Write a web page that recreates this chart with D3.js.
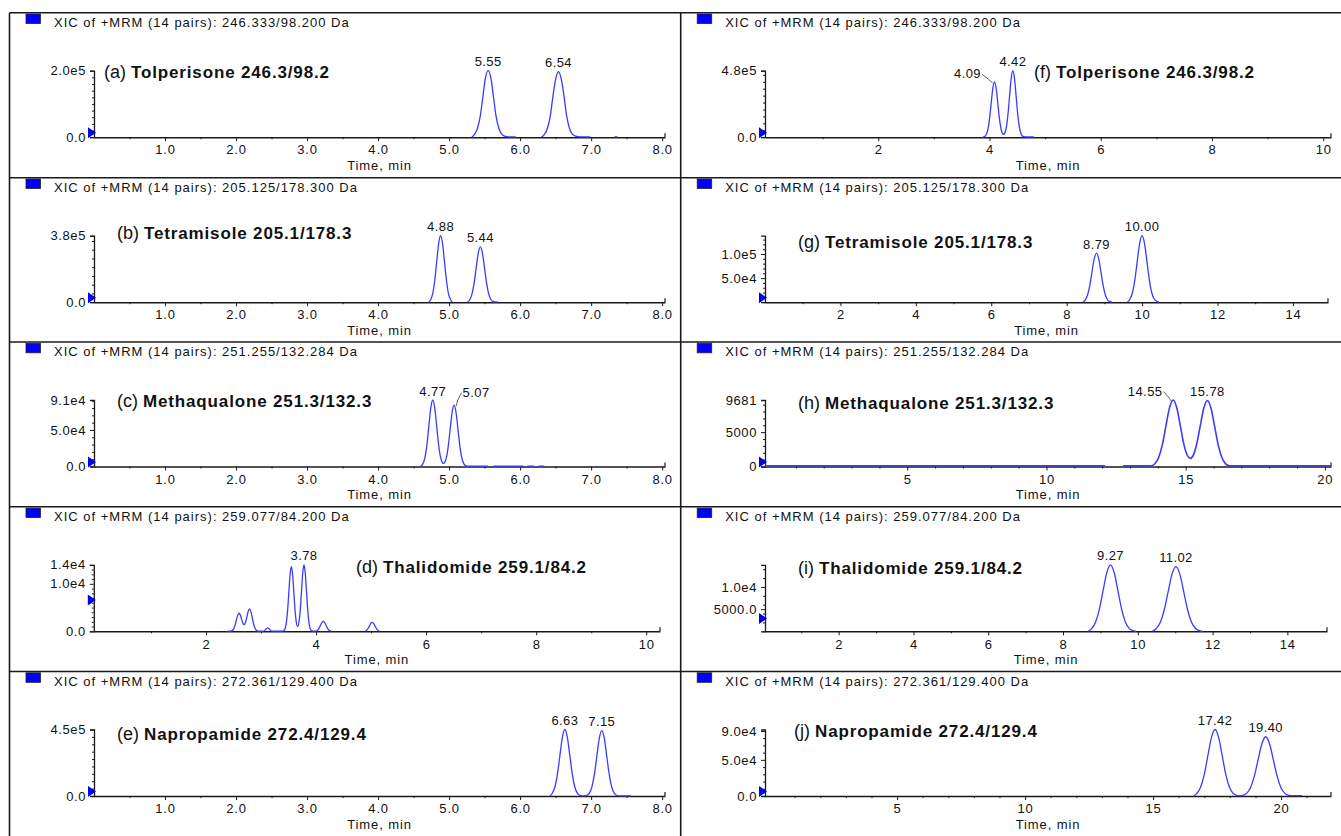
<!DOCTYPE html>
<html><head><meta charset="utf-8">
<script src="https://cdn.jsdelivr.net/npm/d3@7"></script>
<style>
body{margin:0;background:#fff}
svg{display:block}
text{font-family:"Liberation Sans",Arial,sans-serif;fill:#111}
</style>
</head><body>
<svg id="chart" width="1341" height="836"></svg>
<script>
// ---------------- DATA ----------------
const titles = [
  "XIC of +MRM (14 pairs): 246.333/98.200 Da",
  "XIC of +MRM (14 pairs): 205.125/178.300 Da",
  "XIC of +MRM (14 pairs): 251.255/132.284 Da",
  "XIC of +MRM (14 pairs): 259.077/84.200 Da",
  "XIC of +MRM (14 pairs): 272.361/129.400 Da",
  "XIC of +MRM (14 pairs): 246.333/98.200 Da",
  "XIC of +MRM (14 pairs): 205.125/178.300 Da",
  "XIC of +MRM (14 pairs): 251.255/132.284 Da",
  "XIC of +MRM (14 pairs): 259.077/84.200 Da",
  "XIC of +MRM (14 pairs): 272.361/129.400 Da"
];
const compoundTags = ["(a)","(b)","(c)","(d)","(e)","(f)","(g)","(h)","(i)","(j)"];
const compoundNames = [
  "Tolperisone 246.3/98.2","Tetramisole 205.1/178.3","Methaqualone 251.3/132.3",
  "Thalidomide 259.1/84.2","Napropamide 272.4/129.4",
  "Tolperisone 246.3/98.2","Tetramisole 205.1/178.3","Methaqualone 251.3/132.3",
  "Thalidomide 259.1/84.2","Napropamide 272.4/129.4"
];
// intensity max (thousands of counts)
const yMax = [200, 380, 91, 14, 450, 480, 138, 9.681, 15, 92];
const yTickValues = [[0,200],[0,380],[0,50,91],[0,10,14],[0,450],[0,480],[50,100],[0,5,9.681],[5,10],[0,50,90]];
const yTickLabels = [["0.0","2.0e5"],["0.0","3.8e5"],["0.0","5.0e4","9.1e4"],["0.0","1.0e4","1.4e4"],["0.0","4.5e5"],
  ["0.0","4.8e5"],["5.0e4","1.0e5"],["0","5000","9681"],["5000.0","1.0e4"],["0.0","5.0e4","9.0e4"]];
const xTickValues = [
  [1,2,3,4,5,6,7,8],[1,2,3,4,5,6,7,8],[1,2,3,4,5,6,7,8],[2,4,6,8,10],[1,2,3,4,5,6,7,8],
  [2,4,6,8,10],[2,4,6,8,10,12,14],[5,10,15,20],[2,4,6,8,10,12,14],[5,10,15,20]
];
const xTickLabels = [
  ["1.0","2.0","3.0","4.0","5.0","6.0","7.0","8.0"],["1.0","2.0","3.0","4.0","5.0","6.0","7.0","8.0"],
  ["1.0","2.0","3.0","4.0","5.0","6.0","7.0","8.0"],["2","4","6","8","10"],
  ["1.0","2.0","3.0","4.0","5.0","6.0","7.0","8.0"],["2","4","6","8","10"],
  ["2","4","6","8","10","12","14"],["5","10","15","20"],["2","4","6","8","10","12","14"],["5","10","15","20"]
];
const xMinorTicks = [
  [0.5,1.5,2.5,3.5,4.5,5.5,6.5,7.5],[0.5,1.5,2.5,3.5,4.5,5.5,6.5,7.5],[0.5,1.5,2.5,3.5,4.5,5.5,6.5,7.5],
  [1,3,5,7,9],[0.5,1.5,2.5,3.5,4.5,5.5,6.5,7.5],[1,3,5,7,9],[1,3,5,7,9,11,13],
  [1,2,3,4,6,7,8,9,11,12,13,14,16,17,18,19],[1,3,5,7,9,11,13],[1,2,3,4,6,7,8,9,11,12,13,14,16,17,18,19,21]
];
const peakTimes = [[5.55,6.54],[4.88,5.44],[4.77,5.07],[3.78],[6.63,7.15],[4.09,4.42],[8.79,10.00],[14.55,15.78],[9.27,11.02],[17.42,19.40]];
const peakLabels = [["5.55","6.54"],["4.88","5.44"],["4.77","5.07"],["3.78"],["6.63","7.15"],["4.09","4.42"],["8.79","10.00"],["14.55","15.78"],["9.27","11.02"],["17.42","19.40"]];
const thresholdMarks = [0,0,0,6.6,0,0,0,0,2.9,0];

// traces: [time (min), intensity (thousands of counts)]; null = gap
const traceA = [[5.32,0],[5.36,9],[5.40,27],[5.44,65],[5.475,121],[5.51,176],[5.55,200],[5.59,176],[5.625,121],[5.66,65],[5.70,27],[5.74,9],[5.78,3],[5.84,1],[5.92,1],[5.94,0],[5.96,null],
  [6.30,0],[6.345,9],[6.385,27],[6.425,64],[6.46,120],[6.50,174],[6.54,197],[6.58,174],[6.62,120],[6.655,64],[6.695,27],[6.735,9],[6.78,3],[6.85,1],[6.97,1],[6.99,0],[7.1,null],
  [7.33,0],[7.35,1.5],[7.37,0]];
const traceB = [[4.715,0],[4.743,17],[4.77,51],[4.798,124],[4.825,231],[4.853,335],[4.88,380],[4.908,335],[4.935,231],[4.963,124],[4.99,51],[5.018,17],[5.045,0],[5.1,null],
  [5.26,0],[5.29,14],[5.32,43],[5.35,103],[5.38,192],[5.41,279],[5.44,316],[5.47,279],[5.50,192],[5.53,103],[5.56,43],[5.59,14],[5.62,4],[5.68,1],[5.69,0]];
const traceC = [[4.60,0],[4.63,3.6],[4.66,12.3],[4.69,31.6],[4.715,55.2],[4.743,80.7],[4.77,91],[4.798,79.9],[4.825,55.2],[4.853,29.1],[4.88,12.5],[4.90,6.3],[4.92,4.2],[4.94,5.9],[4.96,11.5],[4.987,26.9],[5.015,51],[5.043,74.5],[5.07,84],[5.098,73.8],[5.125,51],[5.153,26.9],[5.18,11.3],[5.21,3.3],[5.24,0.7],[5.27,0.4],[5.55,0.4],[5.57,null],[5.62,0.4],[6.05,0.4],[6.07,null],[6.1,0.4],[6.2,0.4],[6.22,null],[6.26,0.4],[6.34,0.4]];
const traceD = [[2.40,0.05],[2.45,0.05],[2.475,0.17],[2.50,0.51],[2.525,1.24],[2.55,2.31],[2.575,3.35],[2.60,3.8],[2.625,3.36],[2.65,2.4],[2.675,1.57],[2.695,1.41],[2.715,1.8],[2.74,2.91],[2.765,4.15],[2.79,4.7],[2.815,4.15],[2.84,2.85],[2.865,1.53],[2.89,0.63],[2.915,0.21],[2.95,0.05],[3.05,0.05],[3.08,0.36],[3.10,0.6],[3.12,0.72],[3.14,0.6],[3.16,0.36],[3.19,0.05],[3.40,0.05],[3.415,0.15],[3.4375,0.6],[3.46,1.84],[3.4825,4.42],[3.505,8.26],[3.5275,12.0],[3.55,13.6],[3.5725,12.0],[3.595,8.26],[3.6175,4.42],[3.64,1.95],[3.665,1.05],[3.69,2.05],[3.7125,4.55],[3.735,8.5],[3.7575,12.35],[3.78,14.0],[3.8025,12.35],[3.825,8.5],[3.8475,4.55],[3.87,1.89],[3.8925,0.62],[3.915,0.15],[3.95,0.05],[4.00,0.05],[4.03,0.28],[4.055,0.68],[4.08,1.27],[4.105,1.85],[4.13,2.1],[4.155,1.85],[4.18,1.27],[4.205,0.68],[4.23,0.28],[4.26,0.07],[4.28,0.05],[4.3,null],
  [4.90,0.05],[4.92,0.25],[4.945,0.62],[4.97,1.15],[4.995,1.68],[5.02,1.9],[5.045,1.68],[5.07,1.15],[5.095,0.62],[5.12,0.25],[5.15,0.05]];
const traceE = [[6.42,0],[6.455,20],[6.49,61],[6.525,146],[6.56,273],[6.595,397],[6.63,450],[6.665,397],[6.70,273],[6.735,146],[6.77,61],[6.805,20],[6.84,5],[6.88,1.5],[6.92,2.5],[6.94,5],[6.975,19.5],[7.01,60],[7.045,144],[7.08,269],[7.115,391],[7.15,443],[7.185,391],[7.22,269],[7.255,144],[7.29,60],[7.325,19.5],[7.36,5],[7.40,1.5],[7.55,1.5],[7.56,0]];
const traceF = [[3.88,0],[3.91,4.4],[3.94,17.6],[3.97,54],[4.00,130],[4.03,243],[4.06,353],[4.09,400],[4.12,353],[4.15,243],[4.18,130],[4.21,55],[4.24,23],[4.255,20],[4.27,25.4],[4.30,66],[4.33,156],[4.36,291],[4.39,423],[4.42,480],[4.45,423],[4.48,291],[4.51,156],[4.54,65],[4.57,21],[4.60,5.3],[4.64,2],[4.78,2],[4.80,0]];
const traceG = [[8.43,0],[8.49,4.5],[8.55,13.8],[8.61,33.2],[8.67,61.9],[8.73,90],[8.79,102],[8.85,90],[8.91,61.9],[8.97,33.2],[9.03,13.8],[9.09,4.5],[9.15,1.1],[9.2,0],[9.3,null],
  [9.61,0],[9.675,6.1],[9.74,18.6],[9.805,44.9],[9.87,83.8],[9.935,121.7],[10.00,138],[10.065,121.7],[10.13,83.8],[10.195,44.9],[10.26,18.6],[10.325,6.1],[10.39,1.5],[10.45,0]];
const traceH = [[-0.1,0.12],[12.1,0.12],[12.2,null],[12.75,0.12],[13.77,0.12],[13.9,0.43],[14.03,1.31],[14.16,3.15],[14.29,5.88],[14.42,8.54],[14.55,9.681],[14.68,8.54],[14.81,5.88],[14.94,3.15],[15.07,1.54],[15.165,1.18],[15.26,1.53],[15.39,3.17],[15.52,5.83],[15.65,8.47],[15.78,9.6],[15.91,8.47],[16.04,5.83],[16.17,3.12],[16.30,1.3],[16.43,0.42],[16.56,0.12],[20.2,0.12]];
const traceI = [[8.67,0],[8.77,0.66],[8.87,2.03],[8.97,4.88],[9.07,9.1],[9.17,13.2],[9.27,15.0],[9.37,13.2],[9.47,9.1],[9.57,4.88],[9.67,2.03],[9.77,0.66],[9.87,0.17],[9.95,0],[10.1,null],
  [10.39,0],[10.495,0.64],[10.6,1.97],[10.705,4.75],[10.81,8.86],[10.915,12.9],[11.02,14.6],[11.125,12.9],[11.23,8.86],[11.335,4.75],[11.44,1.97],[11.545,0.64],[11.65,0.16],[11.75,0]];
const traceJ = [[16.58,0],[16.72,4.0],[16.86,12.4],[17.0,29.9],[17.14,55.8],[17.28,81.1],[17.42,92],[17.56,81.1],[17.70,55.8],[17.84,29.9],[17.98,12.4],[18.12,4.0],[18.26,1.0],[18.4,0.5],[18.5,0.9],[18.65,3.6],[18.8,11.1],[18.95,26.7],[19.1,49.8],[19.25,72.3],[19.40,82],[19.55,72.3],[19.70,49.8],[19.85,26.7],[20.0,11.1],[20.15,3.6],[20.3,0.9],[20.5,0.5],[20.8,0.5],[20.82,0]];
const traces = [traceA,traceB,traceC,traceD,traceE,traceF,traceG,traceH,traceI,traceJ];

// ---------------- LAYOUT ----------------
const rowTops = [12.7, 177.7, 342, 506.8, 671.5];
const colLefts = [9.5, 680.7];
const xDomains = [[0,8.04],[0,8.04],[0,8.04],[-0.04,10.25],[0,8.04],[-0.036,10.14],[0,14.93],[-0.11,20.22],[0.03,15.06],[-0.16,21.95]];
const xRanges = [[94,665],[94,665],[94,665],[93.8,660],[94,665],[765,1331],[765,1328],[765,1331],[765,1327],[765,1331]];
const compoundPos = [[104,72],[117,233],[117,401],[356,567],[117,734],[1034,72],[798,242],[798,403],[798,568],[794,731]];
// per-peak label offsets [dx, dy, leader]
const labelAdj = {"2-1":[22,-4,"left"], "5-0":[-27,1,"right"], "7-0":[-28,0,"right"]};

const svg = d3.select("#chart");
const ink = "#1a1a1a", traceColor = "#3b3bff";

// frame lines
rowTops.forEach(t => svg.append("line").attr("x1",9.5).attr("x2",1341).attr("y1",t).attr("y2",t)
  .attr("stroke",ink).attr("stroke-width",1.6));
colLefts.forEach(x => svg.append("line").attr("x1",x).attr("x2",x).attr("y1",rowTops[0]).attr("y2",836)
  .attr("stroke",ink).attr("stroke-width",1.6));

traces.forEach((tr, i) => {
  const col = i < 5 ? 0 : 1, row = i % 5;
  const T = rowTops[row], L = colLefts[col];
  const y0 = T + 124.5, yT = T + 58;
  const x = d3.scaleLinear().domain(xDomains[i]).range(xRanges[i]);
  const y = d3.scaleLinear().domain([0, yMax[i]]).range([y0, yT]);
  const ax = xRanges[i][0];
  const g = svg.append("g");

  // header
  g.append("rect").attr("x", L + 16.5).attr("y", T + 1.3).attr("width", 14.5).attr("height", 9.5)
    .attr("fill", "#0000ff").attr("stroke", "#222").attr("stroke-width", 0.8);
  g.append("text").attr("x", L + 44.5).attr("y", T + 14).attr("font-size", 13)
    .attr("letter-spacing", 1.0).text(titles[i]);

  // x axis
  const xa = g.append("g").attr("transform", `translate(0,${y0})`)
    .call(d3.axisBottom(x).tickValues(xTickValues[i]).tickFormat((d,k) => xTickLabels[i][k])
      .tickSize(4).tickSizeOuter(0).tickPadding(4));
  xa.select(".domain").attr("stroke", ink).attr("stroke-width", 1.5);
  xa.selectAll(".tick line").attr("stroke", ink);
  xa.selectAll("text").attr("font-size", 13).attr("letter-spacing", 0.8).attr("fill", "#111")
    .attr("font-family", '"Liberation Sans",Arial,sans-serif');
  const xm = g.append("g").attr("transform", `translate(0,${y0})`)
    .call(d3.axisBottom(x).tickValues(xMinorTicks[i]).tickFormat("").tickSize(2).tickSizeOuter(0));
  xm.select(".domain").remove();
  xm.selectAll(".tick line").attr("stroke", ink);
  // end cap tick
  g.append("line").attr("x1", xRanges[i][1]).attr("x2", xRanges[i][1]).attr("y1", y0).attr("y2", y0 - 4)
    .attr("stroke", ink).attr("stroke-width", 1.2);
  g.append("text").attr("x", (xRanges[i][0] + xRanges[i][1]) / 2).attr("y", T + 157)
    .attr("text-anchor", "middle").attr("font-size", 13).attr("letter-spacing", 0.9).text("Time, min");

  // y axis
  const ya = g.append("g").attr("transform", `translate(${ax},0)`)
    .call(d3.axisLeft(y).tickValues(yTickValues[i]).tickFormat((d,k) => yTickLabels[i][k])
      .tickSize(4).tickSizeOuter(4).tickPadding(4));
  ya.select(".domain").attr("stroke", ink).attr("stroke-width", 1.3);
  ya.selectAll(".tick line").attr("stroke", ink);
  ya.selectAll("text").attr("font-size", 13).attr("letter-spacing", 0.6).attr("fill", "#111")
    .attr("font-family", '"Liberation Sans",Arial,sans-serif');
  const labelled = new Set(yTickValues[i]);
  const ym = g.append("g").attr("transform", `translate(${ax},0)`)
    .call(d3.axisLeft(y).tickValues(y.ticks(10).filter(v => !labelled.has(v) && v < yMax[i])).tickFormat("").tickSize(2).tickSizeOuter(0));
  ym.select(".domain").remove();
  ym.selectAll(".tick line").attr("stroke", ink);

  // threshold marker
  const my = thresholdMarks[i] > 0 ? y(thresholdMarks[i]) : y0 - 4.5;
  g.append("path").attr("d", `M${ax-6},${my-5.5}L${ax+2},${my}L${ax-6},${my+5.5}Z`).attr("fill", "#0000ee");

  // trace
  const line = d3.line().defined(d => d[1] !== null).x(d => x(d[0])).y(d => y(d[1])).curve(d3.curveMonotoneX);
  g.append("path").datum(tr).attr("d", line).attr("fill", "none").attr("stroke", traceColor)
    .attr("stroke-width", i === 7 ? 1.6 : 1.3);

  // peak labels
  peakTimes[i].forEach((pt, k) => {
    const near = tr.filter(d => d[1] !== null && Math.abs(d[0] - pt) < 0.12);
    const top = d3.max(near, d => d[1]);
    const adj = labelAdj[`${i}-${k}`] || [0, 0, null];
    const px = x(pt), py = y(top);
    const t = g.append("text").attr("x", px + adj[0]).attr("y", py - 4.5 + adj[1]).attr("text-anchor", "middle")
      .attr("font-size", 13).attr("letter-spacing", 0.4).text(peakLabels[i][k]);
    if (adj[2]) {
      const hw = t.node().getComputedTextLength() / 2;
      const lx = adj[2] === "left" ? px + adj[0] - hw - 1 : px + adj[0] + hw + 1;
      const ly = py - 4.5 + adj[1] - 4;
      g.append("path").attr("d", `M${lx},${ly}L${(lx + px) / 2},${(ly + py) / 2 + 1}L${px + (adj[2]==="left"?2:-2)},${py + 1}`)
        .attr("fill", "none").attr("stroke", "#333").attr("stroke-width", 0.8);
    }
  });

  // compound label
  const ct = g.append("text").attr("x", compoundPos[i][0]).attr("y", compoundPos[i][1] + 5.5);
  ct.append("tspan").attr("font-size", 18).text(compoundTags[i] + " ");
  ct.append("tspan").attr("font-size", 17).attr("font-weight", "bold").attr("letter-spacing", 0.85).text(compoundNames[i]);
});
</script>
</body></html>
